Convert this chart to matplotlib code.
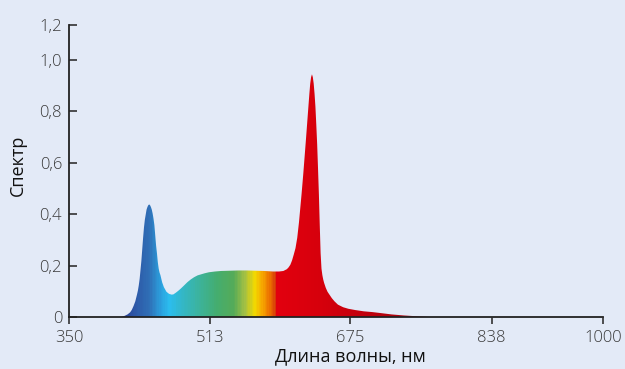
import numpy as np
import matplotlib
matplotlib.use("Agg")
from matplotlib import pyplot as plt
from matplotlib.colors import LinearSegmentedColormap, Normalize

plt.rcParams['font.family'] = ['Open Sans', 'DejaVu Sans']

# spectrum (wavelength, nm -> relative value)
wavelength = [390, 405, 408, 411, 414, 417, 420, 422, 424, 426, 428, 429, 430, 431, 432, 433,
              434, 435, 436, 437, 438, 439, 440, 441, 442, 443, 444, 445, 446, 447, 448, 449,
              450, 451, 452, 453, 454, 455, 457, 459, 462, 465, 468, 470, 473, 476, 479, 483,
              486, 490, 494, 498, 502, 506, 511, 518, 525, 535, 545, 555, 565, 575, 585, 592,
              597, 601, 603, 605, 607, 609, 611, 613, 615, 618, 620, 623, 625, 627, 628, 629,
              630, 631, 632, 633, 634, 635, 636, 637, 638, 639, 640, 641, 642, 643, 644, 646,
              648, 650, 653, 656, 660, 666, 672, 680, 690, 700, 710, 722, 736, 750, 765, 780,
              800, 838, 1000]
spectrum = [0, 0, 0.001, 0.003, 0.007, 0.012, 0.02, 0.03, 0.045, 0.063, 0.09, 0.105, 0.125, 0.15, 0.185, 0.22,
            0.265, 0.31, 0.35, 0.38, 0.40, 0.42, 0.43, 0.437, 0.44, 0.437, 0.43, 0.42, 0.405, 0.385, 0.36, 0.32,
            0.28, 0.25, 0.215, 0.19, 0.175, 0.165, 0.137, 0.118, 0.1, 0.092, 0.089, 0.09, 0.097, 0.105, 0.114, 0.127,
            0.137, 0.148, 0.157, 0.164, 0.168, 0.172, 0.176, 0.179, 0.181, 0.182, 0.183, 0.183, 0.182, 0.181, 0.179, 0.179,
            0.181, 0.188, 0.195, 0.205, 0.222, 0.245, 0.27, 0.31, 0.37, 0.48, 0.56, 0.69, 0.78, 0.87, 0.91, 0.935,
            0.946, 0.935, 0.91, 0.87, 0.82, 0.75, 0.675, 0.58, 0.48, 0.36, 0.25, 0.19, 0.165, 0.148, 0.135, 0.115,
            0.1, 0.09, 0.075, 0.063, 0.05, 0.04, 0.034, 0.029, 0.024, 0.021, 0.017, 0.012, 0.008, 0.005, 0.002, 0.001,
            0, 0, 0]

x_ticks = [350, 513, 675, 838, 1000]
y_ticks = [0, 0.2, 0.4, 0.6, 0.8, 1.0, 1.2]
y_labels = ['0', '0,2', '0,4', '0,6', '0,8', '1,0', '1,2']

# colour of the fill along the wavelength
color_stops = [(405, '#28358a'), (425, '#2d56a6'), (442, '#2f6fb6'),
               (455, '#2b9edc'), (465, '#2bbdef'), (480, '#33b7c8'), (500, '#3cb39c'),
               (520, '#44ad70'), (540, '#55ab58'), (553, '#a5c043'), (564, '#f2da00'),
               (573, '#f6a800'), (582, '#eb6c00'), (588, '#d83f08'), (590, '#e2000e'),
               (640, '#d6000c'), (690, '#c2000c'), (740, '#a8040e'), (800, '#7a1418'),
               (838, '#3a2a30')]

bg = '#e3eaf7'
ink = '#222222'

lo, hi = color_stops[0][0], color_stops[-1][0]
cmap = LinearSegmentedColormap.from_list(
    'spec', [((w - lo) / (hi - lo), c) for w, c in color_stops])

# axes are drawn shorter above 1.0 and past 838 nm, like the original
kx = 112 / 141
ky = 35 / 51.5

def fx(x):
    x = np.asarray(x, float)
    return np.where(x <= 838, x, 838 + (x - 838) * kx)

def ifx(v):
    v = np.asarray(v, float)
    return np.where(v <= 838, v, 838 + (v - 838) / kx)

def fy(y):
    y = np.asarray(y, float)
    return np.where(y <= 1.0, y, 1.0 + (y - 1.0) * ky)

def ify(v):
    v = np.asarray(v, float)
    return np.where(v <= 1.0, v, 1.0 + (v - 1.0) / ky)

fig = plt.figure(figsize=(6.25, 3.69), dpi=100)
fig.patch.set_facecolor(bg)
ax = fig.add_axes([0.1104, 0.1409, 0.8544, 0.7913])
ax.set_facecolor(bg)
ax.set_xscale('function', functions=(fx, ifx))
ax.set_yscale('function', functions=(fy, ify))

# colour band, then the background painted back over everything above the curve
edges = np.arange(lo, hi + 0.5, 1.0)
ax.pcolormesh(edges, [0, 1.0], ((edges[:-1] + edges[1:]) / 2)[None, :],
              cmap=cmap, norm=Normalize(lo, hi), shading='flat',
              antialiased=False, linewidth=0, zorder=1)
ax.fill_between(wavelength, spectrum, 1.2, color=bg, lw=0, zorder=2)

ax.set_xlim(350, 1000)
ax.set_ylim(0, 1.2)
ax.set_xticks(x_ticks)
ax.set_xticklabels([str(t) for t in x_ticks])
ax.set_yticks(y_ticks)
ax.set_yticklabels(y_labels)

for s in ['top', 'right']:
    ax.spines[s].set_visible(False)
for s in ['left', 'bottom']:
    ax.spines[s].set_color(ink)
    ax.spines[s].set_linewidth(1.3)
    ax.spines[s].set_zorder(5)

ax.tick_params(axis='y', direction='in', length=6, width=1.1, color=ink,
               pad=5, labelsize=12, labelcolor='#3a3a3a')
ax.tick_params(axis='x', direction='out', length=5, width=1.1, color=ink,
               pad=4, labelsize=12, labelcolor='#3a3a3a')
for lab in ax.get_xticklabels() + ax.get_yticklabels():
    lab.set_fontweight('light')

ax.set_xlabel('Длина волны, нм', fontsize=13, color='#111111')
ax.xaxis.set_label_coords(0.526, -0.105)
ax.set_ylabel('Спектр', fontsize=13, color='#111111')
ax.yaxis.set_label_coords(-0.078, 0.52)

plt.savefig('out.png', dpi=100, facecolor=bg)
